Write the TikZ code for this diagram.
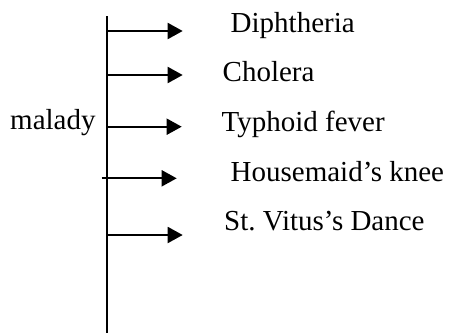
\documentclass[tikz,border=0pt]{standalone}
\usepackage{fontspec}
\setmainfont{Liberation Serif}
\usetikzlibrary{arrows.meta}
\begin{document}
\begin{tikzpicture}[x=1pt,y=-1pt,
  lbl/.style={anchor=base west,inner sep=0pt,font=\fontsize{29}{34}\selectfont},
  stem/.style={line width=1.7pt},
  branch/.style={line width=1.9pt,-{Triangle[length=15pt,width=16pt]}}]
\useasboundingbox (0,0) rectangle (449,332);
\coordinate (top) at (107.3,16);
\coordinate (bot) at (107.3,333);
\draw[stem] (top) -- (bot);
\node[lbl] (mal) at (10,129.5) {malady};
\node[lbl] (d1) at (230.5,32.3) {Diphtheria};
\node[lbl] (d2) at (222.5,81.7) {Cholera};
\node[lbl] (d3) at (221.5,131) {Typhoid fever};
\node[lbl] (d4) at (230.5,181.7) {Housemaid’s knee};
\node[lbl] (d5) at (224,230.7) {St.\ Vitus’s Dance};
\coordinate (s1) at (107.3,31);   \coordinate (e1) at (182.7,31);
\coordinate (s2) at (107.3,75);   \coordinate (e2) at (182.7,75);
\coordinate (s3) at (107.3,126.7);\coordinate (e3) at (181.7,126.7);
\coordinate (s4) at (101.7,178.3);\coordinate (e4) at (176.7,178.3);
\coordinate (s5) at (107.3,235);  \coordinate (e5) at (182.7,235);
\foreach \i in {1,...,5} \draw[branch] (s\i) -- (e\i);
\end{tikzpicture}
\end{document}
